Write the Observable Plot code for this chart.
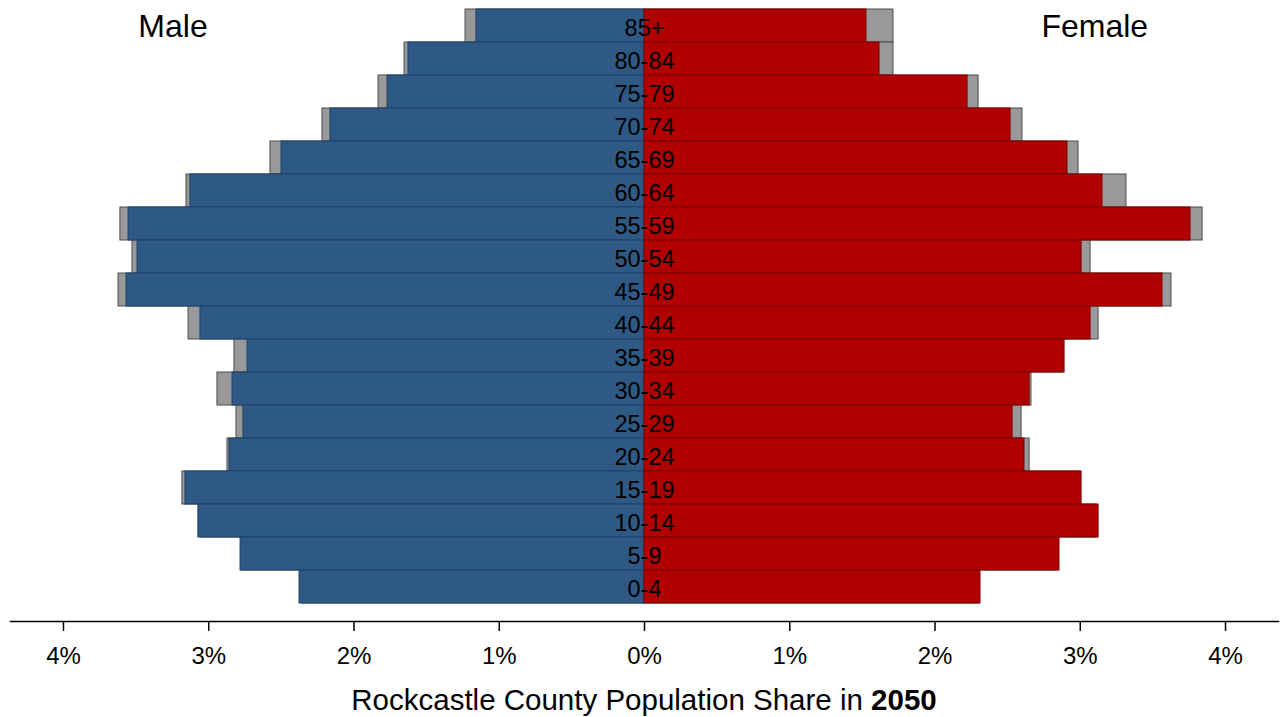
<!DOCTYPE html>
<html>
<head>
<meta charset="utf-8">
<script src="https://cdn.jsdelivr.net/npm/d3@7"></script>
<script src="https://cdn.jsdelivr.net/npm/@observablehq/plot@0.6"></script>
<style>
  html, body { margin: 0; padding: 0; background: #fff; }
  body { width: 1281px; height: 717px; overflow: hidden; font-family: "Liberation Sans", Arial, sans-serif; }
  #title { width: 1281px; text-align: center; font-size: 29.5px; color: #000; padding-left: 7px; box-sizing: border-box; line-height: 34px; margin-top: 11px; }
</style>
</head>
<body>
<div id="chart"></div>
<div id="title">Rockcastle County Population Share in <b>2050</b></div>
<script>
// Age groups, top to bottom
const ages = ["85+","80-84","75-79","70-74","65-69","60-64","55-59","50-54","45-49","40-44","35-39","30-34","25-29","20-24","15-19","10-14","5-9","0-4"];
// Share of population (%) in 2050
const male = [1.157,1.625,1.769,2.162,2.499,3.126,3.552,3.490,3.566,3.057,2.733,2.836,2.761,2.857,3.160,3.071,2.781,2.375];
const female = [1.528,1.618,2.224,2.520,2.912,3.153,3.759,3.009,3.566,3.071,2.892,2.651,2.534,2.616,3.009,3.126,2.857,2.313];
// Comparison (grey) shares (%)
const maleGrey = [1.232,1.652,1.831,2.217,2.575,3.153,3.608,3.525,3.621,3.139,2.823,2.940,2.809,2.871,3.181,3.050,2.770,2.360];
const femaleGrey = [1.714,1.714,2.300,2.602,2.988,3.318,3.842,3.071,3.628,3.126,2.880,2.664,2.596,2.651,3.000,3.110,2.840,2.300];
const xTicks = [-4,-3,-2,-1,0,1,2,3,4];
const sideLabels = [{text: "Male", x: -3.246}, {text: "Female", x: 3.10}];

const rows = [];
ages.forEach((a, i) => {
  rows.push({age: a, sex: "Male", value: -male[i], grey: -maleGrey[i]});
  rows.push({age: a, sex: "Female", value: female[i], grey: femaleGrey[i]});
});

const H = 672;
const chart = Plot.plot({
  width: 1281,
  height: H,
  marginTop: 8,
  marginBottom: H - 621,
  marginLeft: 10,
  marginRight: 3,
  style: {fontFamily: "'Liberation Sans', Arial, sans-serif", background: "#fff", color: "#000"},
  x: {domain: [-4.3, 4.3], insetLeft: 9.4, insetRight: 9.4},
  y: {domain: ages, padding: 0, insetBottom: 18, axis: null},
  marks: [
    Plot.barX(rows, {y: "age", x1: 0, x2: "grey", fill: "#999999", stroke: "#4d4d4d", strokeWidth: 1}),
    Plot.barX(rows, {y: "age", x1: 0, x2: "value",
      fill: d => d.sex === "Male" ? "#2e5985" : "#b00000",
      stroke: d => d.sex === "Male" ? "#1f4266" : "#7e0000", strokeWidth: 1}),
    Plot.text(ages, {y: d => d, text: d => d, fontSize: 23.5, dy: 2, fill: "#000"}),
    Plot.text(sideLabels, {x: "x", text: "text", frameAnchor: "top", lineAnchor: "top", dy: 6, fontSize: 32, fill: "#000"}),
    Plot.frame({anchor: "bottom", stroke: "#000", strokeWidth: 1.5}),
    Plot.axisX(xTicks, {tickSize: 10, tickPadding: 15, fontSize: 24, tickFormat: d => Math.abs(d) + "%", stroke: "#000", strokeWidth: 1.5, color: "#000"})
  ]
});
document.getElementById("chart").appendChild(chart);
</script>
</body>
</html>
